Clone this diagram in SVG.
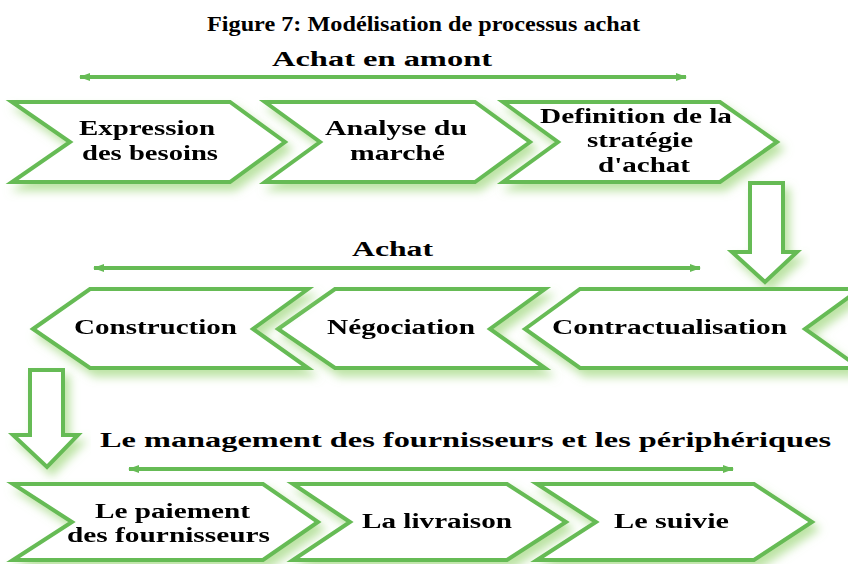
<svg xmlns="http://www.w3.org/2000/svg" width="848" height="564" viewBox="0 0 848 564">
<style>
.shape{fill:#ffffff;stroke:#66bb55;stroke-width:4;stroke-linejoin:miter}
.t{font-family:"Liberation Serif","Times New Roman",serif;font-weight:bold;font-size:20px;fill:#000;text-anchor:start}
.title{font-family:"Liberation Serif","Times New Roman",serif;font-weight:bold;font-size:21px;fill:#000}
.conn{stroke:#66bb55;stroke-width:4;fill:none}
</style>
<defs>
<filter id="glow" x="-20%" y="-30%" width="140%" height="170%">
<feGaussianBlur in="SourceAlpha" stdDeviation="5" result="b"/>
<feOffset in="b" dx="5" dy="7" result="o"/>
<feFlood flood-color="#a6da86" flood-opacity="0.75"/>
<feComposite in2="o" operator="in" result="s"/>
<feMerge><feMergeNode in="s"/><feMergeNode in="SourceGraphic"/></feMerge>
</filter>
<marker id="ah" markerUnits="userSpaceOnUse" markerWidth="12" markerHeight="10" refX="10" refY="5" orient="auto-start-reverse">
<path d="M0,1 L11,5 L0,9 Z" fill="#66bb55"/>
</marker>
</defs>
<rect width="848" height="564" fill="#ffffff"/>
<text class="title" x="207" y="31" textLength="433" lengthAdjust="spacingAndGlyphs">Figure 7: Modélisation de processus achat</text>

<g id="connectors">
<line class="conn" x1="80" y1="77" x2="686" y2="77" marker-start="url(#ah)" marker-end="url(#ah)"/>
<line class="conn" x1="94" y1="268" x2="700" y2="268" marker-start="url(#ah)" marker-end="url(#ah)"/>
<line class="conn" x1="129" y1="469" x2="733" y2="469" marker-start="url(#ah)" marker-end="url(#ah)"/>
<text class="t" x="272" y="66" textLength="220" lengthAdjust="spacingAndGlyphs">Achat en amont</text>
<text class="t" x="352" y="256" textLength="81" lengthAdjust="spacingAndGlyphs">Achat</text>
<text class="t" x="100" y="447" textLength="731" lengthAdjust="spacingAndGlyphs">Le management des fournisseurs et les périphériques</text>
</g>

<g id="arrow-down-1" filter="url(#glow)">
<path class="shape" d="M750,183 H783 V252 H797 L765,282 L732,252 H750 Z"/>
</g>
<g id="arrow-down-2" filter="url(#glow)">
<path class="shape" d="M30,370 H63 V435 H78 L47,467 L13,435 H30 Z"/>
</g>

<g id="expression" filter="url(#glow)">
<path class="shape" d="M12,102 H230 L285,142 L230,182 H12 L70,142 Z"/>
<text class="t" x="79" y="135" textLength="136" lengthAdjust="spacingAndGlyphs">Expression</text>
<text class="t" x="82" y="160" textLength="136" lengthAdjust="spacingAndGlyphs">des besoins</text>
</g>
<g id="analyse" filter="url(#glow)">
<path class="shape" d="M265,102 H475 L530,142 L475,182 H265 L320,142 Z"/>
<text class="t" x="325" y="135" textLength="142" lengthAdjust="spacingAndGlyphs">Analyse du</text>
<text class="t" x="350" y="160" textLength="95" lengthAdjust="spacingAndGlyphs">marché</text>
</g>
<g id="definition" filter="url(#glow)">
<path class="shape" d="M503,102 H720 L777,142 L720,182 H503 L558,142 Z"/>
<text class="t" x="540" y="123" textLength="192" lengthAdjust="spacingAndGlyphs">Definition de la</text>
<text class="t" x="587" y="147" textLength="106" lengthAdjust="spacingAndGlyphs">stratégie</text>
<text class="t" x="598" y="172" textLength="92" lengthAdjust="spacingAndGlyphs">d'achat</text>
</g>

<g id="contractualisation" filter="url(#glow)">
<path class="shape" d="M525,329 L580,289 H860 L805,329 L860,368 H580 Z"/>
<text class="t" x="552" y="334" textLength="235" lengthAdjust="spacingAndGlyphs">Contractualisation</text>
</g>
<g id="negociation" filter="url(#glow)">
<path class="shape" d="M278,329 L335,289 H545 L490,329 L545,368 H335 Z"/>
<text class="t" x="327" y="334" textLength="148" lengthAdjust="spacingAndGlyphs">Négociation</text>
</g>
<g id="construction" filter="url(#glow)">
<path class="shape" d="M33,329 L90,289 H308 L253,329 L308,368 H90 Z"/>
<text class="t" x="74" y="334" textLength="163" lengthAdjust="spacingAndGlyphs">Construction</text>
</g>

<g id="paiement" filter="url(#glow)">
<path class="shape" d="M13,484 H263 L318,522 L263,560 H13 L72,522 Z"/>
<text class="t" x="95" y="518" textLength="155" lengthAdjust="spacingAndGlyphs">Le paiement</text>
<text class="t" x="67" y="542" textLength="203" lengthAdjust="spacingAndGlyphs">des fournisseurs</text>
</g>
<g id="livraison" filter="url(#glow)">
<path class="shape" d="M293,484 H507 L566,522 L507,560 H293 L350,522 Z"/>
<text class="t" x="362" y="528" textLength="150" lengthAdjust="spacingAndGlyphs">La livraison</text>
</g>
<g id="suivie" filter="url(#glow)">
<path class="shape" d="M537,484 H754 L812,522 L754,560 H537 L596,522 Z"/>
<text class="t" x="614" y="528" textLength="115" lengthAdjust="spacingAndGlyphs">Le suivie</text>
</g>
</svg>
